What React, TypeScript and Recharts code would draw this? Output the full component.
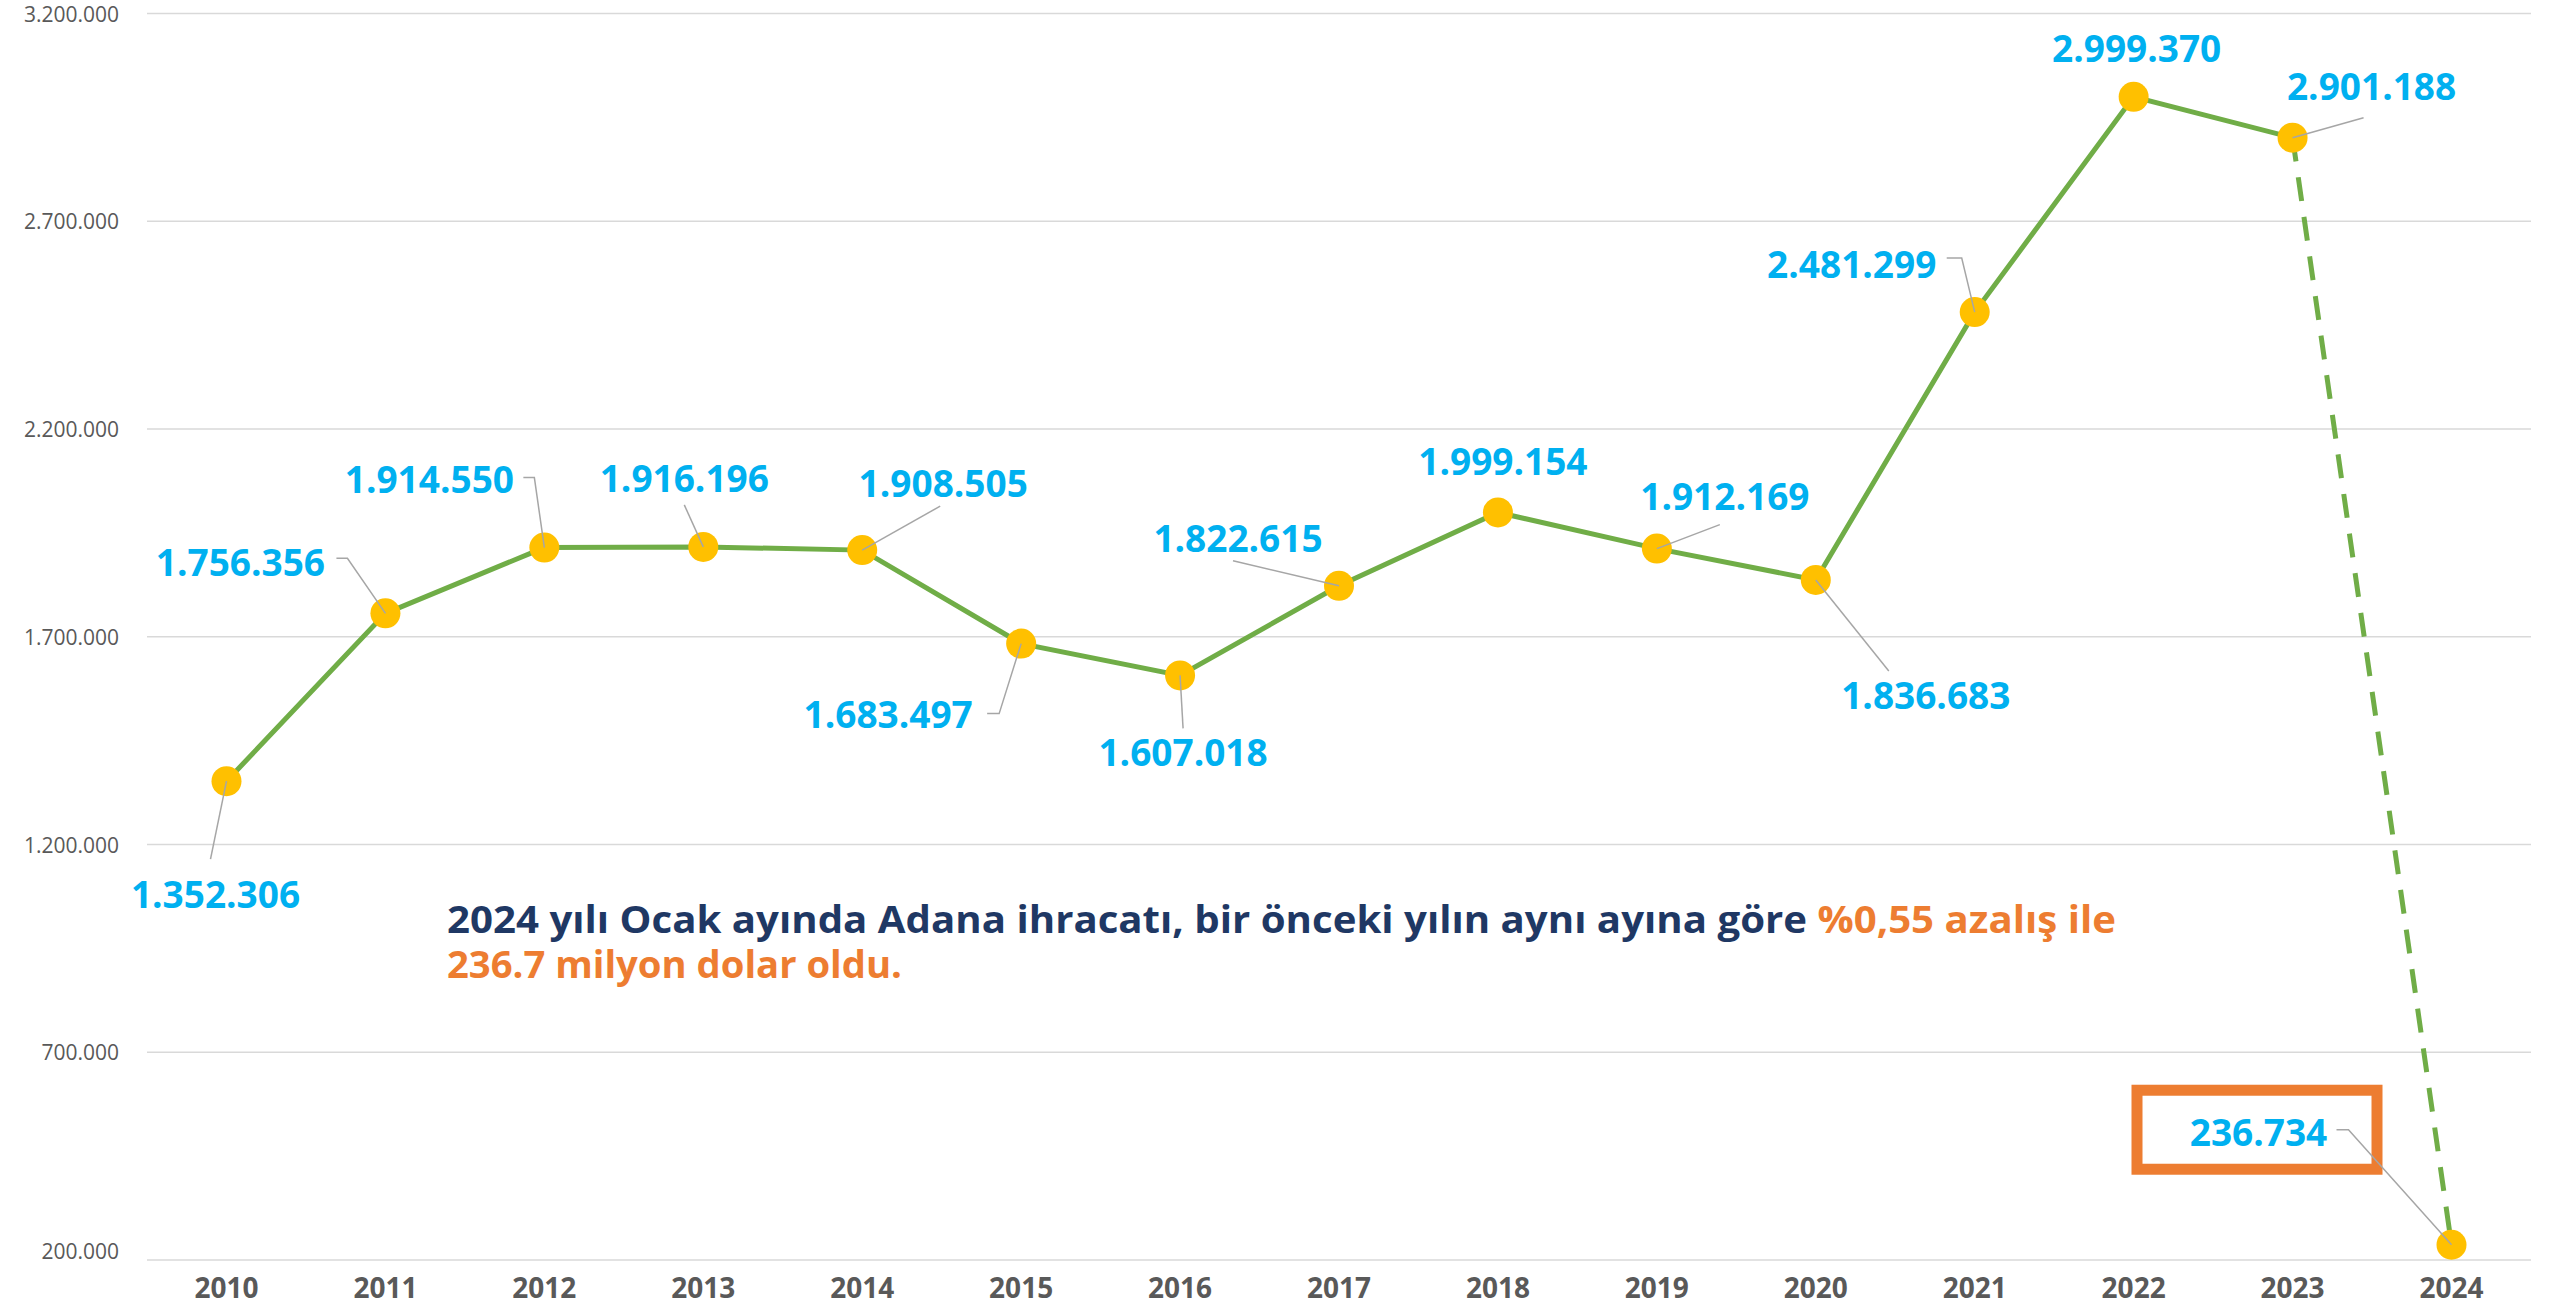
import { LineChart, Line, XAxis, YAxis, CartesianGrid, LabelList } from "recharts";

document.body.style.margin = "0";

const years = [
  "2010", "2011", "2012", "2013", "2014", "2015", "2016", "2017",
  "2018", "2019", "2020", "2021", "2022", "2023", "2024",
];
// Adana exports, thousand USD
const exportsValue = [
  1352306, 1756356, 1914550, 1916196, 1908505, 1683497, 1607018, 1822615,
  1999154, 1912169, 1836683, 2481299, 2999370, 2901188, 236734,
];
const yTicks = [200000, 700000, 1200000, 1700000, 2200000, 2700000, 3200000];

// label centre relative to its point
const labelOffsets: [number, number][] = [
  [-11, 112], [-145, -52], [-115, -69], [-19, -69], [81, -68],
  [-133, 70], [3, 76], [-101, -48], [5, -52], [68, -53],
  [110, 115], [-123, -49], [3, -49], [79, -52], [-193, -113],
];
// leader line: start (and optional elbow) relative to its point
const leaders: (number[] | null)[] = [
  [-16, 78], [-49, -55, -38, -55], [-21, -70, -10, -70], [-19, -42], [78, -44],
  [-34, 70, -22, 70], [3, 53], [-106, -25], null, [63, -24],
  [73, 91], [-28, -54, -13, -54], null, [71, -20], [-115, -115, -103, -115],
];

const GREEN = "#70AD47";
const GOLD = "#FFC000";
const BLUE = "#00B0F0";
const NAVY = "#1F3864";
const ORANGE = "#ED7D31";
const FONT = "'Open Sans', sans-serif";

const fmt = (v: number) => String(v).replace(/\B(?=(\d{3})+(?!\d))/g, ".");

const data = years.map((year, i) => ({
  year,
  solid: i <= 13 ? exportsValue[i] : null,
  dashed: i >= 13 ? exportsValue[i] : null,
  all: exportsValue[i],
}));

const YTick = (props: any) => {
  const { x, y, payload, index } = props;
  return (
    <text
      x={x - 20}
      y={index === 0 ? y - 9 : y}
      textAnchor="end"
      dominantBaseline="central"
      fill="#595959"
      fontFamily={FONT}
      fontSize={21}
    >
      {fmt(payload.value)}
    </text>
  );
};

const XTick = (props: any) => {
  const { x, y, payload } = props;
  return (
    <text x={x} y={y + 30} textAnchor="middle" fill="#595959" fontFamily={FONT} fontSize={28} fontWeight={700}>
      {payload.value}
    </text>
  );
};

const Dot = (props: any) => {
  const { cx, cy, index } = props;
  if (cx == null || cy == null) return <g key={index} />;
  return <circle key={index} cx={cx} cy={cy} r={15} fill={GOLD} stroke="none" />;
};

const LastDot = (props: any) => {
  const { cx, cy, index } = props;
  if (index !== 14 || cx == null || cy == null) return <g key={index} />;
  return <circle key={index} cx={cx} cy={cy} r={15} fill={GOLD} stroke="none" />;
};

const PointLabel = (props: any) => {
  const { x, y, index, value } = props;
  if (x == null || y == null) return null;
  const [dx, dy] = labelOffsets[index];
  const lead = leaders[index];
  let d = "";
  if (lead) {
    d = `M${x + lead[0]},${y + lead[1]}`;
    if (lead.length > 2) d += ` L${x + lead[2]},${y + lead[3]}`;
    d += ` L${x},${y}`;
  }
  return (
    <g>
      {index === 14 && (
        <rect x={x - 314.5} y={y - 154.5} width={240} height={79} fill="none" stroke={ORANGE} strokeWidth={11} />
      )}
      {lead && <path d={d} stroke="#A6A6A6" strokeWidth={1.5} fill="none" />}
      <text
        x={x + dx}
        y={y + dy}
        textAnchor="middle"
        dominantBaseline="central"
        fill={BLUE}
        fontFamily={FONT}
        fontSize={37}
        fontWeight={700}
      >
        {fmt(value)}
      </text>
    </g>
  );
};

export default function App() {
  return (
    <div style={{ position: "relative", width: 2552, height: 1307, background: "#fff" }}>
      <LineChart width={2552} height={1307} data={data} margin={{ top: 13.5, right: 21, bottom: 0, left: 0 }}>
        <CartesianGrid vertical={false} stroke="#D9D9D9" strokeWidth={1.5} />
        <XAxis
          dataKey="year"
          axisLine={false}
          tickLine={false}
          height={47}
          padding={{ left: 79.5, right: 79.5 }}
          tick={<XTick />}
          interval={0}
        />
        <YAxis
          domain={[200000, 3200000]}
          ticks={yTicks}
          axisLine={false}
          tickLine={false}
          width={147}
          tick={<YTick />}
          interval={0}
        />
        <Line
          dataKey="solid"
          stroke={GREEN}
          strokeWidth={5}
          dot={<Dot />}
          activeDot={false}
          isAnimationActive={false}
        />
        <Line
          dataKey="dashed"
          stroke={GREEN}
          strokeWidth={5}
          strokeDasharray="24 16"
          dot={<LastDot />}
          activeDot={false}
          isAnimationActive={false}
        />
        <Line dataKey="all" stroke="none" dot={false} activeDot={false} isAnimationActive={false}>
          <LabelList dataKey="all" content={<PointLabel />} />
        </Line>
      </LineChart>
      <svg
        width={2552}
        height={1307}
        style={{ position: "absolute", left: 0, top: 0, pointerEvents: "none" }}
      >
        <text
          x={447}
          y={933}
          fontFamily={FONT}
          fontSize={38}
          fontWeight={700}
          fill={NAVY}
          textLength={1669}
          lengthAdjust="spacingAndGlyphs"
        >
          2024 yılı Ocak ayında Adana ihracatı, bir önceki yılın aynı ayına göre{" "}
          <tspan fill={ORANGE}>%0,55 azalış ile</tspan>
        </text>
        <text
          x={447}
          y={978}
          fontFamily={FONT}
          fontSize={38}
          fontWeight={700}
          fill={ORANGE}
          textLength={455}
          lengthAdjust="spacingAndGlyphs"
        >
          236.7 milyon dolar oldu.
        </text>
      </svg>
    </div>
  );
}
